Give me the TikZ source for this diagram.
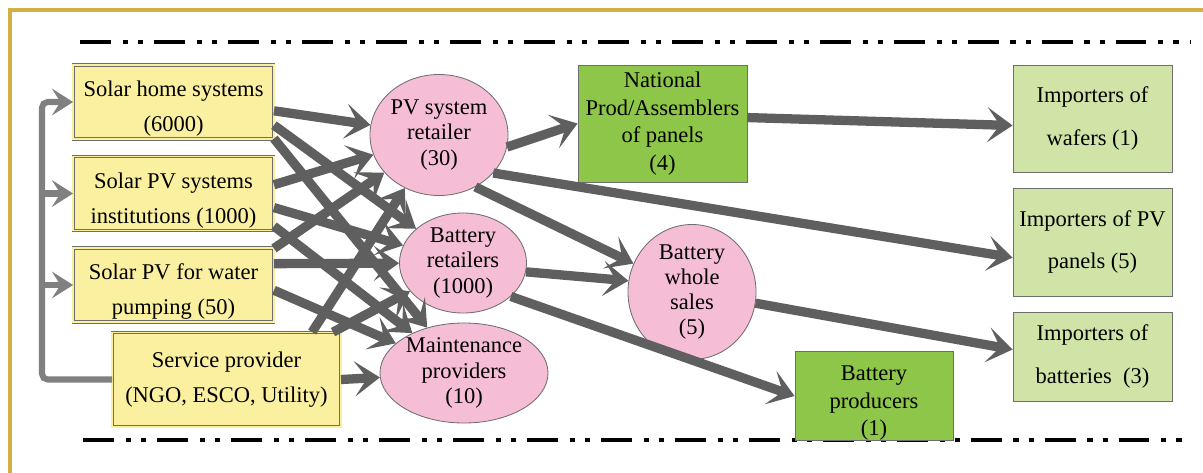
\documentclass[tikz,border=0pt]{standalone}
\usepackage{fontspec}
\setmainfont{Liberation Serif}
\usetikzlibrary{arrows.meta,positioning,shapes.geometric}
\definecolor{boxyellow}{RGB}{250,240,160}
\definecolor{pinkfill}{RGB}{246,190,214}
\definecolor{darkgreen}{RGB}{141,198,72}
\definecolor{lightgreen}{RGB}{209,228,168}
\definecolor{arrowgray}{RGB}{95,95,95}
\definecolor{feedgray}{RGB}{128,128,128}
\definecolor{bordergray}{RGB}{110,110,110}
\definecolor{framegold}{RGB}{214,174,66}

\begin{document}
\begin{tikzpicture}[x=.025cm,y=-.025cm,
  every node/.style={font=\fontsize{16}{18}\selectfont,align=center,inner sep=0pt},
  enduser/.style={rectangle,draw=bordergray,double=boxyellow,double distance=1.4pt,line width=.6pt,fill=boxyellow,font=\fontsize{16}{25}\selectfont},
  lowtext/.style={text height=46pt},
  seller/.style={ellipse,draw=bordergray,line width=.6pt,fill=pinkfill},
  maker/.style={rectangle,draw=bordergray,line width=.6pt,fill=darkgreen,font=\fontsize{16}{19.5}\selectfont},
  importer/.style={rectangle,draw=bordergray,line width=.6pt,fill=lightgreen,font=\fontsize{16}{30}\selectfont,minimum width=3.975cm},
  flow/.style={draw=arrowgray,line width=6.6pt,-{Stealth[length=18pt,width=25pt,inset=9pt]}},
  feed/.style={draw=feedgray,line width=4.3pt,rounded corners=4pt,-{Stealth[length=15pt,width=19pt,inset=6pt]}},
  border/.style={draw=black,line width=2.8pt,dash pattern=on 22pt off 8.5pt on 3.6pt off 7.1pt on 3.6pt off 7.8pt}]
\useasboundingbox (0,0) rectangle (1203,473);
\draw[framegold,line width=2.2pt] (10,480) -- (10,10) -- (1210,10);
\draw[border] (80,42) -- (1190,42);
\draw[border] (83,440) -- (1190,440);

\node[enduser,lowtext,minimum width=5cm,minimum height=1.85cm] (shs) at (173.5,102) {Solar home systems\\(6000)};
\node[enduser,lowtext,minimum width=5cm,minimum height=1.85cm] (spvi) at (173.5,193.5) {Solar PV systems\\institutions (1000)};
\node[enduser,lowtext,minimum width=5cm,minimum height=1.85cm] (spvw) at (173.5,285) {Solar PV for water\\pumping (50)};
\node[enduser,minimum width=5.7cm,minimum height=2.35cm] (sp) at (226.5,379.5) {Service provider\\(NGO, ESCO, Utility)};

\node[seller,minimum width=3.45cm,minimum height=3.025cm] (pvr) at (439,135) {PV system\\retailer\\(30)};
\node[seller,minimum width=3.175cm,minimum height=2.5cm] (brt) at (463,263) {Battery\\retailers\\(1000)};
\node[seller,minimum width=4.2cm,minimum height=2.5cm] (mnt) at (464,373) {Maintenance\\providers\\(10)};
\node[seller,minimum width=3.2cm,minimum height=2.975cm] (bws) at (692,292) {Battery\\whole\\sales\\(5)};

\node[maker,minimum width=4.225cm,minimum height=2.925cm] (natp) at (662.5,123.5) {National\\Prod/Assemblers\\of panels\\(4)};
\node[maker,text height=60pt,minimum width=3.95cm,minimum height=2.2cm] (batp) at (874,396) {Battery\\producers\\(1)};

\node[importer,minimum height=2.675cm] (impw) at (1092.5,118.5) {Importers of\\wafers (1)};
\node[importer,minimum height=2.7cm] (imppv) at (1092.5,242) {Importers of PV\\panels (5)};
\node[importer,minimum height=2.225cm] (impb) at (1092.5,356.5) {Importers of\\batteries\enspace(3)};

\coordinate (bus) at (42,379.5);
\draw[feed] (sp.west) -- (bus) |- (shs.west);
\draw[feed] (bus |- spvi.west) -- (spvi.west);
\draw[feed] (bus |- spvw.west) -- (spvw.west);

\draw[flow] (shs.-5) -- (pvr);
\draw[flow] (shs.-13) -- (brt);
\draw[flow] (shs.-20) -- (mnt);
\draw[flow] (spvi.5) -- (pvr);
\draw[flow] (spvi.-8) -- (brt);
\draw[flow] (spvi.-18) -- (mnt);
\draw[flow] (spvw.20) -- (pvr);
\draw[flow] (spvw.12) -- (brt);
\draw[flow] (spvw.-3) -- (mnt);
\draw[flow] (sp.29) -- (pvr);
\draw[flow] (sp.24) -- (brt);
\draw[flow] (sp.east) -- (mnt);

\draw[flow] (pvr.-10) -- (natp.west);
\draw[flow] (pvr.-35) -- (imppv.191);
\draw[flow] (pvr.-55) -- (bws);
\draw[flow] (natp.4) -- (impw.185);
\draw[flow] (brt.-8) -- (bws.170);
\draw[flow] (brt.-35) -- (batp.west);
\draw[flow] (bws.-10) -- (impb.175);
\end{tikzpicture}
\end{document}
